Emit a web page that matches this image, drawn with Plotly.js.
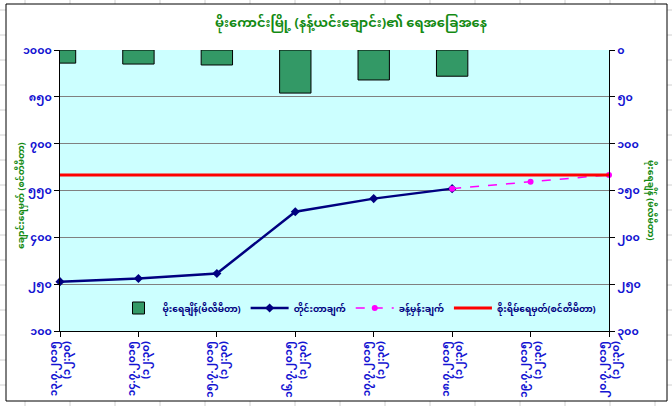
<!DOCTYPE html>
<html>
<head>
<meta charset="utf-8">
<script src="https://cdn.plot.ly/plotly-3.0.1.min.js"></script>
<style>html,body{margin:0;padding:0;background:#fff;}#chart{width:672px;height:406px;}</style>
</head>
<body>
<div id="chart"></div>
<script>
// ---- data ----
const categories = [
  '၁၃.၇.၂၀၁၅<br>(၁၂:၃၀)',
  '၁၄.၇.၂၀၁၅<br>(၁၂:၃၀)',
  '၁၅.၇.၂၀၁၅<br>(၁၂:၃၀)',
  '၁၆.၇.၂၀၁၅<br>(၁၂:၃၀)',
  '၁၇.၇.၂၀၁၅<br>(၁၂:၃၀)',
  '၁၈.၇.၂၀၁၅<br>(၁၂:၃၀)',
  '၁၉.၇.၂၀၁၅<br>(၁၂:၃၀)',
  '၂၀.၇.၂၀၁၅<br>(၁၂:၃၀)'
];
const rainfall = [14, 15, 16, 46, 32, 28, null, null];
const measured = [258, 268, 284, 482, 524, 556, null, null];
const forecast = [null, null, null, null, null, 556, 578, 600];
const dangerLevel = [600, 600, 600, 600, 600, 600, 600, 600];
const leftTickVals = [100, 250, 400, 550, 700, 850, 1000];
const leftTickText = ['၁၀၀', '၂၅၀', '၄၀၀', '၅၅၀', '၇၀၀', '၈၅၀', '၁၀၀၀'];
const rightTickVals = [0, 50, 100, 150, 200, 250, 300];
const rightTickText = ['၀', '၅၀', '၁၀၀', '၁၅၀', '၂၀၀', '၂၅၀', '၃၀၀'];
const seriesNames = ['မိုးရေချိန်(မီလီမီတာ)', 'တိုင်းတာချက်', 'ခန့်မှန်းချက်', 'စိုးရိမ်ရေမှတ်(စင်တီမီတာ)'];
const chartTitle = 'မိုးကောင်းမြို့ (နန့်ယင်းချောင်း)၏ ရေအခြေအနေ';
const leftTitle = 'ချောင်းရေမှတ် (စင်တီမီတာ)';
const rightTitle = 'မိုးရေချိန် (မီလီမီတာ)';

const bold = s => '<b>' + s + '</b>';

// ---- layout geometry ----
const W = 672, H = 406;
const M = {l: 60, r: 63, t: 50, b: 75};
const pw = W - M.l - M.r, ph = H - M.t - M.b;
const px = x => (x - M.l) / pw;
const py = y => (H - M.b - y) / ph;

const FONT = 'Noto Sans Myanmar, Padauk, Myanmar Text, Noto Sans, DejaVu Sans, sans-serif';
const BLUE = '#1414d2';
const GREEN = '#138a13';

const traces = [
  {type: 'bar', x: categories, y: rainfall, yaxis: 'y2', name: bold(seriesNames[0]),
   marker: {color: '#339966', line: {color: '#000', width: 1}}},
  {type: 'scatter', mode: 'lines+markers', x: categories, y: measured, name: bold(seriesNames[1]),
   line: {color: '#000080', width: 2.5}, marker: {symbol: 'diamond', size: 7, color: '#000080'}, cliponaxis: false},
  {type: 'scatter', mode: 'lines+markers', x: categories, y: forecast, name: bold(seriesNames[2]),
   line: {color: '#ff00ff', width: 1.5, dash: 'dash'}, marker: {symbol: 'circle', size: 6, color: '#ff00ff'}, cliponaxis: false},
  {type: 'scatter', mode: 'lines', x: categories, y: dangerLevel, name: bold(seriesNames[3]),
   line: {color: '#ff0000', width: 3}}
];

// worksheet grid lines outside the chart area + chart border
const shapes = [];
for (let x = 25; x < W; x += 45) {
  shapes.push({type: 'line', xref: 'paper', yref: 'paper', x0: px(x), x1: px(x), y0: py(0), y1: py(4), line: {color: '#d0d0d0', width: 1}, layer: 'below'});
  shapes.push({type: 'line', xref: 'paper', yref: 'paper', x0: px(x), x1: px(x), y0: py(401), y1: py(H), line: {color: '#d0d0d0', width: 1}, layer: 'below'});
}
for (let y = 10; y < H; y += 25) {
  shapes.push({type: 'line', xref: 'paper', yref: 'paper', x0: px(0), x1: px(6), y0: py(y), y1: py(y), line: {color: '#d0d0d0', width: 1}, layer: 'below'});
  shapes.push({type: 'line', xref: 'paper', yref: 'paper', x0: px(667), x1: px(W), y0: py(y), y1: py(y), line: {color: '#d0d0d0', width: 1}, layer: 'below'});
}
shapes.push({type: 'rect', xref: 'paper', yref: 'paper', x0: px(6), x1: px(667), y0: py(4), y1: py(401), line: {color: '#000', width: 1}, layer: 'below'});

const layout = {
  width: W, height: H,
  margin: M,
  paper_bgcolor: '#ffffff',
  plot_bgcolor: '#ccffff',
  font: {family: FONT, color: BLUE},
  showlegend: true,
  bargap: 0.6,
  title: {text: bold(chartTitle), x: 351 / W, xanchor: 'center', y: 1 - 22 / H, yanchor: 'middle',
          font: {size: 13, color: GREEN, family: FONT}},
  xaxis: {type: 'category', range: [0, 7], showgrid: false, showline: true, linecolor: '#000', linewidth: 1,
          ticks: 'outside', ticklen: 5, tickcolor: '#000', tickangle: -90,
          tickvals: categories, ticktext: categories.map(bold),
          tickfont: {size: 10.5, color: BLUE, family: FONT}, zeroline: false},
  yaxis: {range: [100, 1000], tickvals: leftTickVals, ticktext: leftTickText.map(bold), showgrid: true, gridcolor: '#808080', gridwidth: 1,
          showline: true, linecolor: '#000', linewidth: 1, ticks: 'outside', ticklen: 5, tickcolor: '#000',
          tickfont: {size: 11, color: BLUE, family: FONT}, zeroline: false},
  yaxis2: {range: [300, 0], overlaying: 'y', side: 'right', tickvals: rightTickVals, ticktext: rightTickText.map(bold),
           showgrid: false, showline: true, linecolor: '#000', linewidth: 1, ticks: 'outside', ticklen: 5, tickcolor: '#000',
           tickfont: {size: 11, color: BLUE, family: FONT}, zeroline: false},
  legend: {orientation: 'h', x: px(358), xanchor: 'center', y: py(308), yanchor: 'middle', bgcolor: 'rgba(0,0,0,0)',
           font: {size: 9, color: '#000080', family: FONT}, itemwidth: 38, tracegroupgap: 0, traceorder: 'normal'},
  annotations: [
    {text: bold(leftTitle), xref: 'paper', yref: 'paper', x: px(22), y: py(196), textangle: -90,
     showarrow: false, font: {size: 9, color: GREEN, family: FONT}, xanchor: 'center', yanchor: 'middle'},
    {text: bold(rightTitle), xref: 'paper', yref: 'paper', x: px(650), y: py(200), textangle: 90,
     showarrow: false, font: {size: 9, color: GREEN, family: FONT}, xanchor: 'center', yanchor: 'middle'}
  ],
  shapes: shapes
};

Plotly.newPlot('chart', traces, layout, {displayModeBar: false, staticPlot: true});
</script>
</body>
</html>
